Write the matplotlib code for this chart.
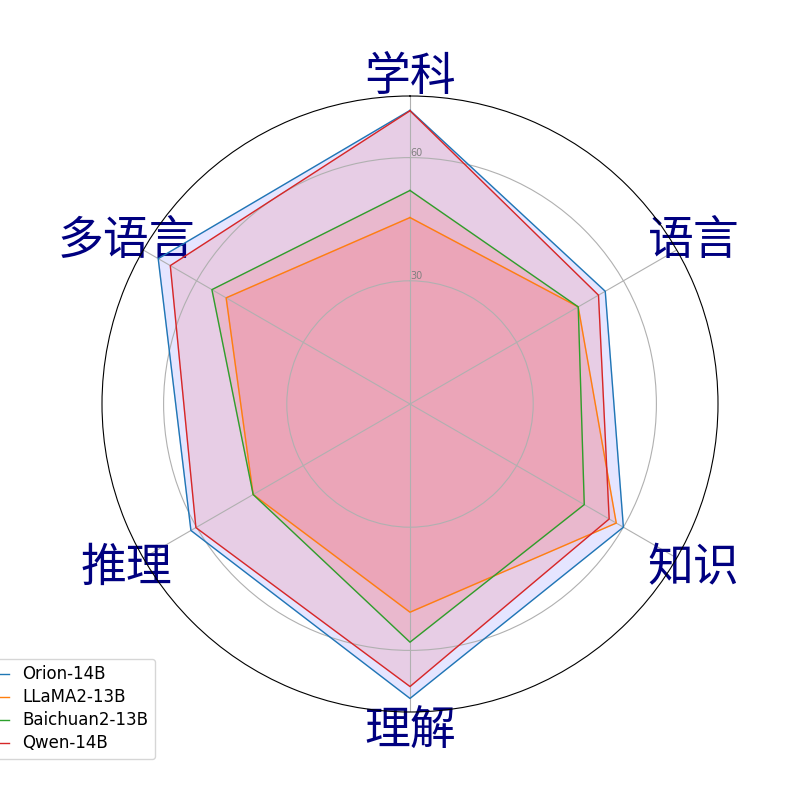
import numpy as np
import matplotlib
matplotlib.use("Agg")
import matplotlib.pyplot as plt

categories = ['学科', '语言', '知识', '理解', '推理', '多语言']
models = ['Orion-14B', 'LLaMA2-13B', 'Baichuan2-13B', 'Qwen-14B']
orion = [71.5, 54.9, 60.0, 71.7, 61.6, 70.8]
llama = [45.4, 47.3, 58.0, 50.7, 44.1, 51.7]
baichuan = [52.0, 47.3, 49.0, 58.0, 44.1, 55.7]
qwen = [71.4, 53.0, 56.0, 68.8, 60.2, 67.4]
series = [orion, llama, baichuan, qwen]
line_colors = ['tab:blue', 'tab:orange', 'tab:green', 'tab:red']
fill_colors = ['b', 'r', 'r', 'r']
rticks = [30, 60]

n = len(categories)
angles = np.linspace(0, 2 * np.pi, n, endpoint=False).tolist()
angles_c = angles + angles[:1]

fig = plt.figure(figsize=(8, 8), dpi=100)
ax = fig.add_subplot(111, polar=True)
ax.set_theta_offset(np.pi / 2)
ax.set_theta_direction(-1)

for name, vals, lc, fc in zip(models, series, line_colors, fill_colors):
    v = vals + vals[:1]
    ax.plot(angles_c, v, color=lc, linewidth=1, label=name)
    ax.fill(angles_c, v, color=fc, alpha=0.1)

ax.set_ylim(0, 75)
ax.set_rgrids(rticks, labels=[str(t) for t in rticks], angle=0, fontsize=7, color='gray')
ax.set_thetagrids(np.degrees(angles), categories, fontsize=33, color='navy',
                  family=['Noto Sans CJK SC', 'DejaVu Sans'])
ax.legend(loc='upper right', bbox_to_anchor=(0.1, 0.1), fontsize=12,
          prop={'family': 'DejaVu Sans', 'size': 12}, labelspacing=0.3)

fig.savefig('out.png', dpi=100)
